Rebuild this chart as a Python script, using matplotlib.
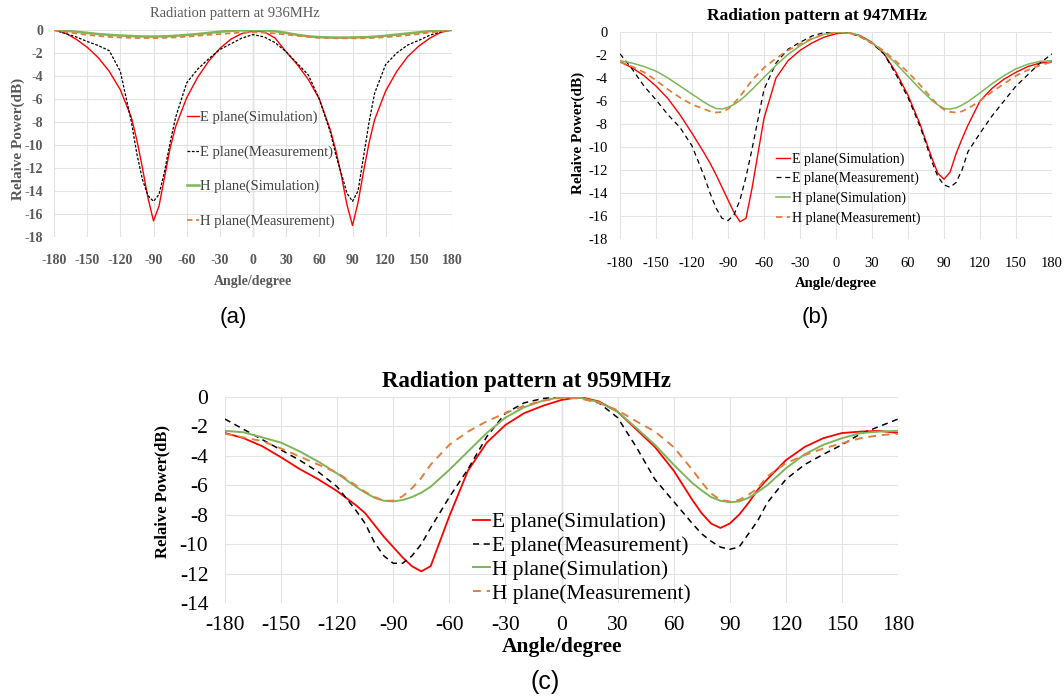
import matplotlib
matplotlib.use("Agg")
import matplotlib.pyplot as plt

# ---------------- data ----------------
angles = [-180, -170, -160, -150, -140, -130, -120, -110, -105, -100, -95, -90, -85, -80, -75, -70,
          -60, -50, -40, -30, -20, -10, 0, 10, 20, 30, 40, 50, 60,
          70, 75, 80, 85, 90, 95, 100, 105, 110, 120, 130, 140, 150, 160, 170, 180]

series_labels = ["E plane(Simulation)", "E plane(Measurement)", "H plane(Simulation)", "H plane(Measurement)"]

# (a) 936 MHz
a_e_sim = [0, -0.25, -0.8, -1.5, -2.4, -3.6, -5.2, -7.6, -9.6, -12.0, -14.6, -16.6, -15.3, -12.8, -10.3, -8.4,
           -5.9, -4.1, -2.7, -1.6, -0.8, -0.3, -0.1, -0.15, -0.7, -1.9, -3.0, -4.3, -6.0,
           -8.7, -10.5, -12.7, -15.2, -17.0, -15.0, -12.3, -9.8, -7.8, -5.3, -3.6, -2.3, -1.4, -0.7, -0.2, 0]
a_e_meas = [0, -0.3, -0.6, -1.0, -1.35, -1.8, -3.6, -8.0, -10.8, -13.0, -14.4, -14.9, -14.3, -12.3, -9.8, -7.6,
            -4.6, -3.4, -2.5, -1.7, -1.2, -0.7, -0.4, -0.6, -1.1, -1.9, -2.9, -3.9, -6.0,
            -8.9, -10.9, -12.5, -14.2, -14.9, -14.0, -11.0, -8.0, -5.5, -3.0, -2.0, -1.3, -0.9, -0.45, -0.15, 0]
a_h_sim = [0, -0.05, -0.15, -0.25, -0.35, -0.42, -0.48, -0.52, -0.55, -0.56, -0.57, -0.57, -0.56, -0.55, -0.53, -0.5,
           -0.43, -0.35, -0.25, -0.15, -0.08, -0.03, -0.02, -0.03, -0.1, -0.25, -0.42, -0.55, -0.62,
           -0.65, -0.66, -0.66, -0.66, -0.65, -0.64, -0.63, -0.61, -0.58, -0.5, -0.4, -0.3, -0.2, -0.1, -0.03, 0]
a_h_meas = [0, -0.15, -0.3, -0.42, -0.52, -0.6, -0.65, -0.68, -0.7, -0.7, -0.7, -0.7, -0.7, -0.68, -0.66, -0.64,
            -0.58, -0.5, -0.42, -0.35, -0.28, -0.22, -0.2, -0.22, -0.3, -0.4, -0.5, -0.6, -0.68,
            -0.7, -0.72, -0.72, -0.72, -0.72, -0.72, -0.71, -0.7, -0.68, -0.62, -0.55, -0.45, -0.35, -0.22, -0.1, 0]

# (b) 947 MHz
b_e_sim = [-2.6, -3.1, -3.8, -4.7, -5.8, -7.2, -8.8, -10.5, -11.4, -12.4, -13.5, -14.6, -15.7, -16.5, -16.2, -13.6,
           -7.5, -4.0, -2.5, -1.6, -0.95, -0.45, -0.15, -0.05, -0.3, -0.9, -1.9, -3.5, -5.5,
           -8.0, -9.5, -11.0, -12.3, -12.8, -12.2, -10.6, -9.3, -8.1, -6.0, -4.9, -4.1, -3.5, -3.0, -2.7, -2.6]
b_e_meas = [-1.9, -3.2, -4.7, -5.9, -7.2, -8.3, -9.9, -12.5, -14.0, -15.3, -16.2, -16.4, -15.9, -14.6, -12.6, -10.2,
            -5.0, -2.7, -1.5, -0.9, -0.35, -0.05, 0, -0.05, -0.4, -1.0, -1.9, -3.7, -5.7,
            -8.2, -9.7, -11.3, -12.6, -13.3, -13.5, -13.1, -12.0, -10.4, -8.8, -7.3, -6.0, -4.7, -3.7, -2.7, -1.9]
b_h_sim = [-2.5, -2.7, -3.0, -3.4, -4.0, -4.7, -5.4, -6.1, -6.4, -6.65, -6.7, -6.55, -6.3, -5.95, -5.5, -5.0,
           -3.95, -2.9, -1.95, -1.2, -0.6, -0.2, -0.03, 0, -0.35, -0.95, -1.75, -2.75, -3.85,
           -4.95, -5.45, -5.95, -6.35, -6.65, -6.7, -6.6, -6.35, -6.05, -5.3, -4.5, -3.8, -3.2, -2.8, -2.55, -2.5]
b_h_meas = [-2.6, -3.0, -3.5, -4.2, -5.0, -5.7, -6.3, -6.7, -6.9, -7.0, -6.95, -6.7, -6.2, -5.6, -4.9, -4.2,
            -3.1, -2.3, -1.6, -1.05, -0.55, -0.2, -0.05, -0.05, -0.4, -0.95, -1.65, -2.55, -3.5,
            -4.6, -5.2, -5.8, -6.35, -6.75, -6.95, -7.0, -6.9, -6.65, -6.0, -5.2, -4.5, -3.8, -3.3, -2.9, -2.6]

# (c) 959 MHz
c_e_sim = [-2.45, -2.8, -3.35, -4.1, -4.9, -5.6, -6.4, -7.35, -7.9, -8.7, -9.5, -10.2, -10.9, -11.5, -11.85, -11.5,
           -8.1, -5.0, -3.1, -1.9, -1.1, -0.6, -0.2, 0, -0.3, -1.0, -2.2, -3.4, -5.0,
           -7.0, -7.9, -8.6, -8.9, -8.6, -8.0, -7.2, -6.3, -5.6, -4.3, -3.4, -2.8, -2.45, -2.35, -2.3, -2.45]
c_e_meas = [-1.5, -2.2, -2.9, -3.6, -4.3, -5.1, -6.1, -7.7, -8.6, -9.9, -10.8, -11.3, -11.3, -10.8, -10.0, -8.9,
            -6.8, -4.9, -2.7, -1.1, -0.4, -0.1, 0, -0.05, -0.4, -1.4, -3.4, -5.6, -7.1,
            -8.6, -9.3, -9.8, -10.2, -10.35, -10.2, -9.3, -8.4, -7.2, -5.6, -4.6, -3.9, -3.25, -2.5, -2.0, -1.5]
c_h_sim = [-2.3, -2.4, -2.75, -3.1, -3.7, -4.4, -5.2, -6.1, -6.5, -6.85, -7.05, -7.1, -7.0, -6.8, -6.5, -6.1,
           -4.95, -3.7, -2.45, -1.4, -0.7, -0.25, 0, -0.05, -0.35, -1.0, -2.1, -3.25, -4.6,
           -5.85, -6.35, -6.8, -7.05, -7.15, -7.1, -6.85, -6.45, -6.0, -4.85, -3.9, -3.25, -2.8, -2.45, -2.35, -2.3]
c_h_meas = [-2.5, -2.75, -3.0, -3.5, -4.05, -4.6, -5.15, -6.0, -6.45, -6.8, -7.05, -7.05, -6.75, -6.2, -5.5, -4.6,
            -3.25, -2.35, -1.65, -1.1, -0.6, -0.25, -0.05, -0.1, -0.4, -0.9, -1.65, -2.35, -3.4,
            -4.95, -5.8, -6.55, -7.0, -7.1, -7.0, -6.65, -6.2, -5.4, -4.5, -3.95, -3.5, -3.15, -2.8, -2.6, -2.5]

x_ticks = [-180, -150, -120, -90, -60, -30, 0, 30, 60, 90, 120, 150, 180]
titles = ["Radiation pattern at 936MHz", "Radiation pattern at 947MHz", "Radiation pattern at 959MHz"]
ylabel_text = "Relaive Power(dB)"
xlabel_text = "Angle/degree"
panel_tags = ["(a)", "(b)", "(c)"]

# ---------------- figure ----------------
W, H = 1064, 700
fig = plt.figure(figsize=(W / 100, H / 100), dpi=100)
SERIF = ["Liberation Serif", "DejaVu Serif"]

def box(l, t, r, b):
    return [l / W, 1 - b / H, (r - l) / W, (b - t) / H]

def ftext(x, y, s, **kw):
    fig.text(x / W, 1 - y / H, s, ha="center", va="center", **kw)

RED, BLACK, GREEN, ORANGE = "#FF0000", "#000000", "#7DB65A", "#E0803C"

panels = [
    dict(rect=box(54, 30, 452, 237), ylim=(-18, 0), yt=list(range(-18, 1, 2)),
         data=[a_e_sim, a_e_meas, a_h_sim, a_h_meas],
         lws=[1.0, 0.9, 1.8, 1.3], dash=[None, (0, (2.2, 1.3)), None, (0, (3, 2))],
         tcol="#595959", tsize=10, tweight="bold", xpad=12, ypad=8,
         zero=True, leg=dict(anchor=(0.335, 0.61), size=10.5, spacing=1.45, hl=0.8, col="#404040", weight="normal")),
    dict(rect=box(620, 32, 1052, 239), ylim=(-18, 0), yt=list(range(-18, 1, 2)),
         data=[b_e_sim, b_e_meas, b_h_sim, b_h_meas],
         lws=[1.0, 0.9, 1.1, 1.3], dash=[None, (0, (4, 3)), None, (0, (3.5, 2.5))],
         tcol="#000000", tsize=10.5, tweight="normal", xpad=13, ypad=9,
         zero=False, leg=dict(anchor=(0.362, 0.42), size=10, spacing=0.45, hl=1.0, col="#000000", weight="normal")),
    dict(rect=box(225, 397, 898, 603), ylim=(-14, 0), yt=list(range(-14, 1, 2)),
         data=[c_e_sim, c_e_meas, c_h_sim, c_h_meas],
         lws=[1.3, 1.1, 1.4, 1.4], dash=[None, (0, (4, 3)), None, (0, (4, 3))],
         tcol="#000000", tsize=15.5, tweight="normal", xpad=9, ypad=12,
         zero=True, leg=dict(anchor=(0.368, 0.44), size=15.5, spacing=0.17, hl=0.8, col="#000000", weight="normal")),
]
colors = [RED, BLACK, GREEN, ORANGE]

for p in panels:
    ax = fig.add_axes(p["rect"])
    for vals, c, lw, ds, lab in zip(p["data"], colors, p["lws"], p["dash"], series_labels):
        kw = dict(color=c, lw=lw, label=lab)
        if ds is not None:
            kw["linestyle"] = ds
        ax.plot(angles, vals, **kw)
    ax.set_xlim(-180, 180)
    ax.set_ylim(*p["ylim"])
    ax.set_xticks(x_ticks)
    ax.set_yticks(p["yt"])
    ax.set_xticklabels([str(v) for v in x_ticks])
    ax.set_yticklabels([str(v) for v in p["yt"]])
    ax.grid(True, color="#E3E3E3", lw=0.8)
    ax.set_axisbelow(True)
    for s in ax.spines.values():
        s.set_visible(False)
    if p["zero"]:
        ax.axvline(0, color="#BDBDBD", lw=0.9, zorder=0.5)
    ax.tick_params(length=0)
    ax.tick_params(axis="x", pad=p["xpad"])
    ax.tick_params(axis="y", pad=p["ypad"])
    for t in ax.get_xticklabels() + ax.get_yticklabels():
        t.set_fontfamily(SERIF)
        t.set_fontsize(p["tsize"])
        t.set_color(p["tcol"])
        t.set_fontweight(p["tweight"])
    lg = p["leg"]
    leg = ax.legend(loc="upper left", bbox_to_anchor=lg["anchor"], frameon=False,
                    prop=dict(family=SERIF, size=lg["size"], weight=lg["weight"]),
                    labelspacing=lg["spacing"], handlelength=lg["hl"], handletextpad=0.1,
                    borderpad=0, borderaxespad=0)
    for t in leg.get_texts():
        t.set_color(lg["col"])

# titles
ftext(235, 14, titles[0], family=SERIF, fontsize=10.5, color="#595959")
ftext(817, 16, titles[1], family=SERIF, fontsize=12.5, fontweight="bold", color="#000000")
ftext(527, 381, titles[2], family=SERIF, fontsize=16.5, fontweight="bold", color="#000000")

# axis labels
ftext(253, 282, xlabel_text, family=SERIF, fontsize=10, fontweight="bold", color="#595959")
ftext(18, 139, ylabel_text, family=SERIF, fontsize=11, fontweight="bold", color="#595959", rotation=90)
ftext(836, 283, xlabel_text, family=SERIF, fontsize=10.5, fontweight="bold", color="#000000")
ftext(578, 133, ylabel_text, family=SERIF, fontsize=11, fontweight="bold", color="#000000", rotation=90)
ftext(562, 647, xlabel_text, family=SERIF, fontsize=15.5, fontweight="bold", color="#000000")
ftext(162, 492, ylabel_text, family=SERIF, fontsize=12, fontweight="bold", color="#000000", rotation=90)

# panel tags
SANS = ["Liberation Sans", "DejaVu Sans"]
ftext(233, 317, panel_tags[0], family=SANS, fontsize=16, color="#000000")
ftext(815, 318, panel_tags[1], family=SANS, fontsize=16, color="#000000")
ftext(545, 682, panel_tags[2], family=SANS, fontsize=18, color="#000000")

fig.savefig("out.png", dpi=100)
